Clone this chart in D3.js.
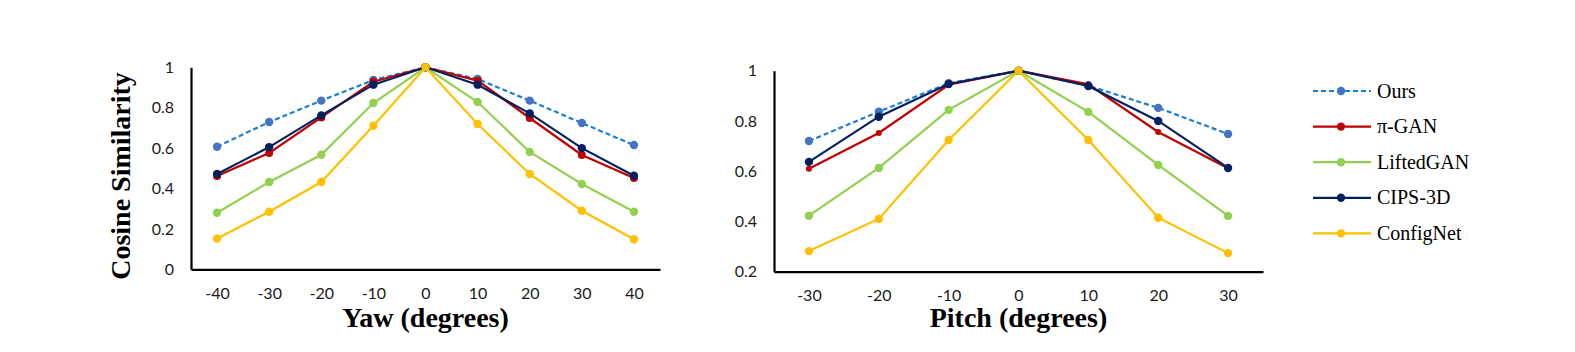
<!DOCTYPE html>
<html>
<head>
<meta charset="utf-8">
<script src="https://cdn.jsdelivr.net/npm/d3@7"></script>
<style>
  body { margin: 0; background: #fff; }
  .tick text { font-family: Lato, "Open Sans", sans-serif; font-size: 16px; fill: #1a1a1a; }
  .axis-title { font-family: "Liberation Serif", "Times New Roman", serif; font-weight: bold; font-size: 28px; fill: #000; }
  .legend-label { font-family: "Liberation Serif", "Times New Roman", serif; font-size: 20px; fill: #000; }
</style>
</head>
<body>
<div id="viz"></div>
<script>
const width = 1575;
const height = 352;

// Yaw panel data
const yawAngles = [-40, -30, -20, -10, 0, 10, 20, 30, 40];
const yawOurs   = [0.607, 0.729, 0.835, 0.937, 1, 0.942, 0.835, 0.724, 0.615];
const yawPiGan  = [0.462, 0.576, 0.752, 0.929, 1, 0.934, 0.749, 0.566, 0.452];
const yawLifted = [0.280, 0.432, 0.567, 0.823, 1, 0.828, 0.581, 0.422, 0.285];
const yawCips   = [0.472, 0.605, 0.762, 0.914, 1, 0.914, 0.772, 0.600, 0.463];
const yawConfig = [0.152, 0.285, 0.432, 0.711, 1, 0.719, 0.472, 0.290, 0.149];
const yawTicks  = [0, 0.2, 0.4, 0.6, 0.8, 1];

// Pitch panel data
const pitchAngles = [-30, -20, -10, 0, 10, 20, 30];
const pitchOurs   = [0.720, 0.837, 0.950, 1, 0.940, 0.852, 0.748];
const pitchPiGan  = [0.610, 0.752, 0.944, 1, 0.946, 0.756, 0.612];
const pitchLifted = [0.423, 0.613, 0.844, 1, 0.836, 0.625, 0.422];
const pitchCips   = [0.637, 0.817, 0.947, 1, 0.939, 0.800, 0.613];
const pitchConfig = [0.282, 0.410, 0.724, 1, 0.724, 0.415, 0.274];
const pitchTicks  = [0.2, 0.4, 0.6, 0.8, 1];

const methods = [
  { key: 'ours',   label: 'Ours',      line: '#1a7fd4', dot: '#4472C4', dash: '5,3' },
  { key: 'pigan',  label: 'π-GAN',     line: '#C00000', dot: '#C00000', dash: null },
  { key: 'lifted', label: 'LiftedGAN', line: '#92D050', dot: '#92D050', dash: null },
  { key: 'cips',   label: 'CIPS-3D',   line: '#002060', dot: '#002060', dash: null },
  { key: 'config', label: 'ConfigNet', line: '#FFC000', dot: '#FFC000', dash: null },
];

const panels = [
  {
    angles: yawAngles, ticks: yawTicks, title: 'Yaw (degrees)',
    series: { ours: yawOurs, pigan: yawPiGan, lifted: yawLifted, cips: yawCips, config: yawConfig },
    x: [191, 660], y: [269.3, 67.3], domainY: [0, 1], yLabel: true, piR: 4
  },
  {
    angles: pitchAngles, ticks: pitchTicks, title: 'Pitch (degrees)',
    series: { ours: pitchOurs, pigan: pitchPiGan, lifted: pitchLifted, cips: pitchCips, config: pitchConfig },
    x: [774, 1263], y: [271.7, 70.7], domainY: [0.2, 1], yLabel: false, piR: 3
  }
];

const svg = d3.select('#viz')
  .append('svg')
    .attr('width', width)
    .attr('height', height);

panels.forEach(panel => {
  const scaleX = d3.scalePoint()
    .domain(panel.angles)
    .range(panel.x)
    .padding(0.5);

  const scaleY = d3.scaleLinear()
    .domain(panel.domainY)
    .range(panel.y);

  const g = svg.append('g');

  // axes
  const axisLeft = d3.axisLeft(scaleY)
    .tickValues(panel.ticks)
    .tickFormat(d => String(d))
    .tickSize(0)
    .tickPadding(17)
    .tickSizeOuter(0);
  const yAxis = g.append('g')
    .attr('transform', `translate(${panel.x[0]},0)`)
    .call(axisLeft);
  yAxis.select('.domain').attr('stroke', '#000').attr('stroke-width', 2.2);

  const axisBottom = d3.axisBottom(scaleX)
    .tickSize(0)
    .tickPadding(18)
    .tickSizeOuter(0);
  const xAxis = g.append('g')
    .attr('transform', `translate(0,${panel.y[0]})`)
    .call(axisBottom);
  xAxis.select('.domain').attr('stroke', '#000').attr('stroke-width', 2.2);

  g.append('text')
    .attr('class', 'axis-title')
    .attr('text-anchor', 'middle')
    .attr('x', (panel.x[0] + panel.x[1]) / 2)
    .attr('y', 327)
    .text(panel.title);

  if (panel.yLabel) {
    g.append('text')
      .attr('class', 'axis-title')
      .attr('text-anchor', 'middle')
      .attr('transform', `translate(129.5, 176) rotate(-90)`)
      .text('Cosine Similarity');
  }

  // lines + markers
  const line = d3.line()
    .x(d => scaleX(d.angle))
    .y(d => scaleY(d.value));

  methods.forEach(m => {
    const pts = panel.angles.map((a, i) => ({ angle: a, value: panel.series[m.key][i] }));
    g.append('path')
      .datum(pts)
      .attr('d', line)
      .attr('fill', 'none')
      .attr('stroke', m.line)
      .attr('stroke-width', 2.2)
      .attr('stroke-dasharray', m.dash);
    g.append('g')
      .selectAll('circle')
      .data(pts)
      .join('circle')
        .attr('cx', d => scaleX(d.angle))
        .attr('cy', d => scaleY(d.value))
        .attr('r', m.key === 'pigan' ? panel.piR : 4.2)
        .attr('fill', m.dot);
  });
});

// legend
const legend = svg.append('g')
  .selectAll('g')
  .data(methods)
  .join('g')
    .attr('transform', (d, i) => `translate(1313, ${91 + i * 35.6})`);
legend.append('line')
  .attr('x1', 0).attr('x2', 58)
  .attr('stroke', d => d.line)
  .attr('stroke-width', 2.2)
  .attr('stroke-dasharray', d => d.dash);
legend.append('circle')
  .attr('cx', 28)
  .attr('r', 4.2)
  .attr('fill', d => d.dot);
legend.append('text')
  .attr('class', 'legend-label')
  .attr('x', 64)
  .attr('y', 6.5)
  .text(d => d.label);
</script>
</body>
</html>
